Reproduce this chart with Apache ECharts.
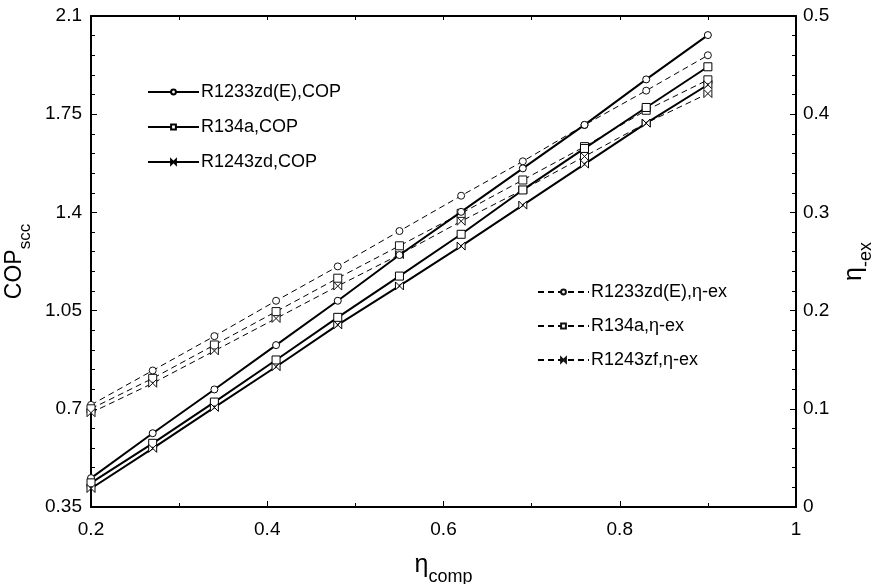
<!DOCTYPE html>
<html>
<head>
<meta charset="utf-8">
<script src="https://cdn.jsdelivr.net/npm/echarts@6/dist/echarts.min.js"></script>
<style>
  html, body { margin: 0; padding: 0; background: #fff; }
  #chart { width: 872px; height: 584px; }
</style>
</head>
<body>
<div id="chart"></div>
<script>
// Compressor isentropic efficiency (x values)
var etaComp = [0.2, 0.27, 0.34, 0.41, 0.48, 0.55, 0.62, 0.69, 0.76, 0.83, 0.9];

// COP of the cycle (left axis)
var copR1233 = [0.453, 0.613, 0.769, 0.927, 1.085, 1.248, 1.402, 1.557, 1.712, 1.874, 2.032];
var copR134a = [0.436, 0.577, 0.724, 0.874, 1.026, 1.173, 1.322, 1.480, 1.628, 1.774, 1.919];
var copR1243 = [0.416, 0.559, 0.705, 0.850, 0.999, 1.138, 1.280, 1.426, 1.572, 1.718, 1.855];

// Exergy efficiency (right axis)
var exR1233 = [0.104, 0.139, 0.174, 0.210, 0.245, 0.281, 0.317, 0.352, 0.389, 0.424, 0.460];
var exR134a = [0.100, 0.131, 0.165, 0.199, 0.233, 0.266, 0.299, 0.333, 0.367, 0.404, 0.435];
var exR1243 = [0.096, 0.126, 0.159, 0.192, 0.225, 0.257, 0.291, 0.323, 0.357, 0.391, 0.421];

// Tick labels
var xTickLabels = ['0.2', '0.4', '0.6', '0.8', '1'];
var leftTickLabels = ['0.35', '0.7', '1.05', '1.4', '1.75', '2.1'];
var rightTickLabels = ['0', '0.1', '0.2', '0.3', '0.4', '0.5'];

function pickLabel(list) {
  return function (v) {
    for (var i = 0; i < list.length; i++) {
      if (Math.abs(parseFloat(list[i]) - v) < 1e-6) return list[i];
    }
    return '';
  };
}

var FONT = '"Liberation Sans", Arial, sans-serif';
var bowtie = 'path://M0,0L10,10L10,0L0,10Z';

function pairs(ys) {
  return etaComp.map(function (x, i) { return [x, ys[i]]; });
}

function copSeries(name, ys, symbol, size) {
  return {
    name: name, type: 'line', xAxisIndex: 0, yAxisIndex: 0,
    data: pairs(ys), symbol: symbol, symbolSize: size, showAllSymbol: true,
    lineStyle: { color: '#000', width: 2 },
    itemStyle: { color: '#fff', borderColor: '#000', borderWidth: 1 },
    emphasis: { disabled: true }, animation: false, z: 3
  };
}

function exSeries(name, ys, symbol, size) {
  return {
    name: name, type: 'line', xAxisIndex: 0, yAxisIndex: 1,
    data: pairs(ys), symbol: symbol, symbolSize: size, showAllSymbol: true,
    lineStyle: { color: '#000', width: 1, type: [6, 4] },
    itemStyle: { color: '#fff', borderColor: '#111', borderWidth: 1 },
    emphasis: { disabled: true }, animation: false, z: 2
  };
}

// main glyph + lowered subscript for axis titles
function subRich(mainSize, subSize, lineH) {
  return {
    a: { fontFamily: FONT, fontSize: mainSize, color: '#000', lineHeight: mainSize + 1, verticalAlign: 'top' },
    b: { fontFamily: FONT, fontSize: subSize, color: '#000', lineHeight: lineH, verticalAlign: 'bottom' }
  };
}

var chart = echarts.init(document.getElementById('chart'), null, { renderer: 'canvas' });

var axisLineStyle = { show: true, lineStyle: { color: '#000', width: 2 } };

var option = {
  backgroundColor: '#fff',
  animation: false,
  grid: { left: 91, right: 76, top: 16, bottom: 77, containLabel: false, outerBoundsMode: 'none' },
  legend: [
    {
      orient: 'vertical', left: 147, top: 83, padding: 0,
      itemWidth: 51, itemHeight: 6, itemGap: 17,
      textStyle: { fontFamily: FONT, fontSize: 18, color: '#000', padding: [0, 0, 0, -3] },
      data: ['R1233zd(E),COP', 'R134a,COP', 'R1243zd,COP'],
      selectedMode: false
    },
    {
      orient: 'vertical', left: 537, top: 283, padding: 0,
      itemWidth: 51, itemHeight: 6, itemGap: 16,
      textStyle: { fontFamily: FONT, fontSize: 18, color: '#000', padding: [0, 0, 0, -3] },
      data: ['R1233zd(E),η-ex', 'R134a,η-ex', 'R1243zf,η-ex'],
      selectedMode: false
    }
  ],
  xAxis: [
    {
      type: 'value', position: 'bottom', min: 0.2, max: 1, interval: 0.2,
      axisLine: axisLineStyle,
      axisTick: { show: true, inside: true, length: 6, lineStyle: { color: '#000', width: 1 } },
      minorTick: { show: true, splitNumber: 2, length: 4, lineStyle: { color: '#000', width: 1 } },
      splitLine: { show: false },
      axisLabel: { margin: 13, fontFamily: FONT, fontSize: 19, color: '#000', formatter: pickLabel(xTickLabels) },
      name: '{a|η}{b|comp}', nameLocation: 'middle', nameGap: 46,
      nameTextStyle: { rich: subRich(25, 18, 33) }
    },
    {
      type: 'value', position: 'top', min: 0.2, max: 1, interval: 0.1,
      axisLine: axisLineStyle,
      axisTick: { show: true, inside: true, length: 4, lineStyle: { color: '#000', width: 1 } },
      axisLabel: { show: false },
      splitLine: { show: false }
    }
  ],
  yAxis: [
    {
      type: 'value', position: 'left', min: 0.35, max: 2.1, interval: 0.35,
      axisLine: axisLineStyle,
      axisTick: { show: true, inside: true, length: 6, lineStyle: { color: '#000', width: 1 } },
      minorTick: { show: true, splitNumber: 5, length: 4, lineStyle: { color: '#000', width: 1 } },
      splitLine: { show: false },
      axisLabel: { margin: 9, fontFamily: FONT, fontSize: 19, color: '#000', formatter: pickLabel(leftTickLabels) },
      name: '{a|COP}{b|scc}', nameLocation: 'middle', nameGap: 44,
      nameTextStyle: { rich: subRich(23, 17, 31) }
    },
    {
      type: 'value', position: 'right', min: 0, max: 0.5, interval: 0.1,
      axisLine: axisLineStyle,
      axisTick: { show: true, inside: true, length: 6, lineStyle: { color: '#000', width: 1 } },
      minorTick: { show: true, splitNumber: 5, length: 4, lineStyle: { color: '#000', width: 1 } },
      splitLine: { show: false },
      axisLabel: { margin: 7, fontFamily: FONT, fontSize: 19, color: '#000', formatter: pickLabel(rightTickLabels) },
      name: '{a|η}{b|-ex}', nameLocation: 'middle', nameGap: 46,
      nameTextStyle: { rich: subRich(25, 18, 33) }
    }
  ],
  series: [
    copSeries('R1233zd(E),COP', copR1233, 'circle', 7),
    copSeries('R134a,COP', copR134a, 'rect', 8),
    copSeries('R1243zd,COP', copR1243, bowtie, 8),
    exSeries('R1233zd(E),η-ex', exR1233, 'circle', 7),
    exSeries('R134a,η-ex', exR134a, 'rect', 8),
    exSeries('R1243zf,η-ex', exR1243, bowtie, 8)
  ]
};

chart.setOption(option);
</script>
</body>
</html>
